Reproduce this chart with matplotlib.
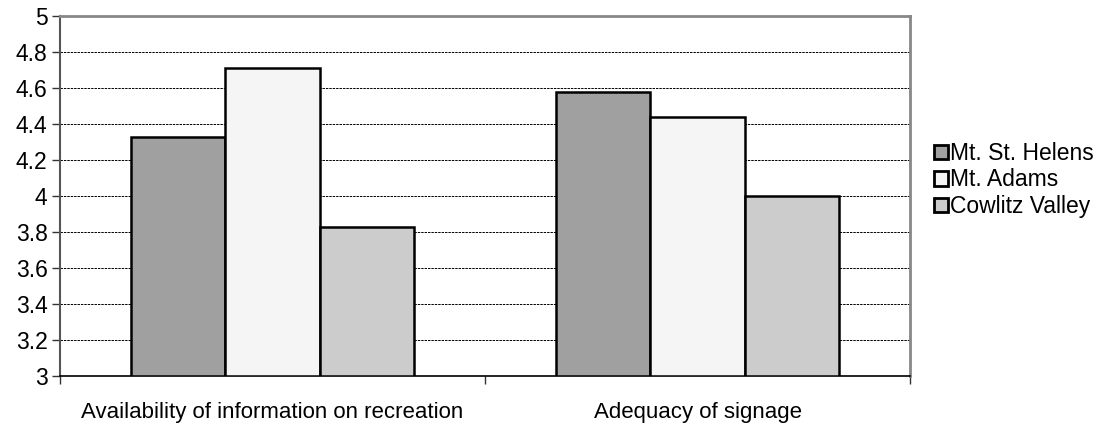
import matplotlib
matplotlib.use("Agg")
import matplotlib.pyplot as plt
import numpy as np

categories = ["Availability of information on recreation", "Adequacy of signage"]
series_names = ["Mt. St. Helens", "Mt. Adams", "Cowlitz Valley"]
mt_st_helens = [4.33, 4.58]
mt_adams = [4.71, 4.44]
cowlitz_valley = [3.83, 4.00]
y_ticks = [3, 3.2, 3.4, 3.6, 3.8, 4, 4.2, 4.4, 4.6, 4.8, 5]
y_tick_labels = ["3", "3.2", "3.4", "3.6", "3.8", "4", "4.2", "4.4", "4.6", "4.8", "5"]

colors = ["#A0A0A0", "#F5F5F5", "#CCCCCC"]

plt.rcParams["font.family"] = ["Liberation Sans", "DejaVu Sans"]

fig = plt.figure(figsize=(11, 4.26), dpi=100)
ax = fig.add_axes([60 / 1100, 50 / 426, 850 / 1100, 360 / 426])

x = np.arange(len(categories))
width = 0.2225
all_series = [mt_st_helens, mt_adams, cowlitz_valley]
for i, (vals, name, col) in enumerate(zip(all_series, series_names, colors)):
    ax.bar(x + (i - 1) * width, np.array(vals) - 3, width, bottom=3,
           color=col, edgecolor="black", linewidth=1.8, label=name, zorder=3)

ax.set_xlim(-0.5, 1.5)
ax.set_ylim(3, 5)
ax.set_yticks(y_ticks)
ax.set_yticklabels(y_tick_labels)

for yv in y_ticks[1:-1]:
    ax.axhline(yv, color="black", linestyle=(0, (2.5, 1.0)), linewidth=0.7, zorder=1)

ax.set_xticks(x)
ax.set_xticklabels(categories)
ax.set_xticks([-0.5, 0.5, 1.5], minor=True)
ax.tick_params(axis="x", which="major", length=0, pad=19, labelsize=16)
ax.tick_params(axis="x", which="minor", length=6, width=1, direction="out", color="#333333")
ax.tick_params(axis="y", length=6, width=1, direction="out", labelsize=16.5, pad=3, color="#333333")

ax.spines["left"].set_color("#555555")
ax.spines["left"].set_linewidth(1.5)
ax.spines["bottom"].set_color("black")
ax.spines["bottom"].set_linewidth(1.2)
ax.spines["top"].set_color("#888888")
ax.spines["top"].set_linewidth(2)
ax.spines["right"].set_color("#888888")
ax.spines["right"].set_linewidth(2)

leg = fig.legend(loc="center left", bbox_to_anchor=(934 / 1100, 1 - 180 / 426), frameon=False,
                 fontsize=16.5, handlelength=0.6, handleheight=0.6, handletextpad=0.1,
                 labelspacing=0.15, borderaxespad=0, borderpad=0)
for h in leg.legend_handles:
    h.set_linewidth(2)

fig.savefig("out.png", dpi=100)
